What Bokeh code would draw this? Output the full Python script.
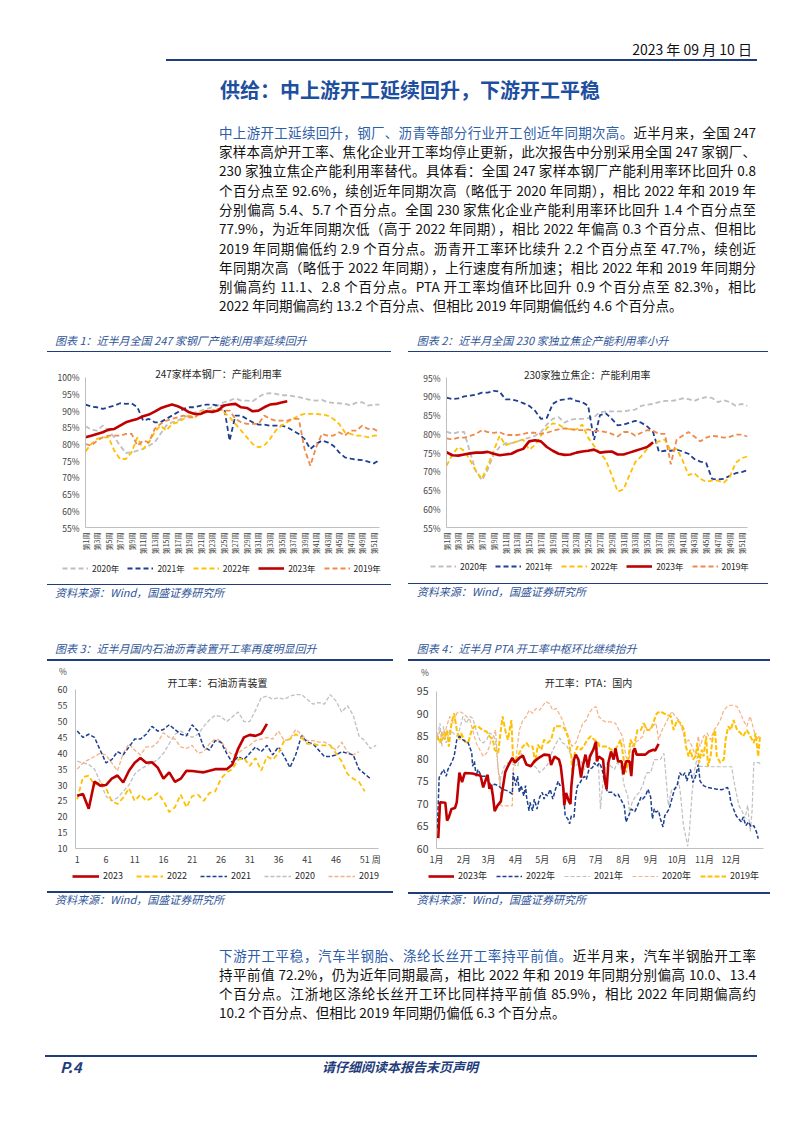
import math
from bokeh.plotting import figure
from bokeh.models import FixedTicker, Legend, LegendItem, Label, Div, Spacer, Range1d
from bokeh.layouts import column, row
from bokeh.embed import file_html
from bokeh.resources import INLINE

FONT = "Noto Sans CJK SC"
CSSFONT = "'Noto Sans CJK SC', 'Noto Sans', sans-serif"
PAGE_W = 794

# ---------------- data ----------------
weeks_label = [f"第{i}周" for i in range(1, 53)]

# Chart 1: 247 steel mills capacity utilisation (%)
steel_2020 = [85.3,84.3,84.0,85.5,84.0,82.0,79.5,77.3,77.5,78.0,78.5,79.5,80.5,83.0,85.5,86.5,87.0,88.0,88.5,89.5,
              90.0,90.5,91.0,91.5,92.5,93.0,93.7,93.0,93.0,92.8,94.0,95.0,95.2,95.0,94.6,94.6,94.3,94.0,93.6,93.2,
              93.0,93.2,92.5,92.3,92.2,92.0,91.6,92.4,92.5,91.5,91.8,91.8]
steel_2021 = [91.8,91.2,91.0,90.5,91.0,91.5,92.2,92.0,92.2,91.0,87.0,87.5,86.5,86.5,87.5,88.5,89.5,90.5,91.0,91.0,
              91.5,91.8,91.8,91.5,91.5,81.0,88.5,88.5,87.5,86.5,85.8,85.8,85.5,85.5,85.5,85.0,84.0,83.0,81.5,78.5,
              80.0,81.0,80.5,79.5,77.5,76.0,75.6,75.3,75.2,74.7,74.2,75.2]
steel_2022 = [77.8,80.0,81.5,82.0,82.0,78.0,75.5,75.5,77.5,82.0,78.5,80.5,83.5,85.5,84.0,86.0,86.5,87.5,88.5,88.0,
              89.5,90.0,90.0,90.5,89.5,88.0,86.0,84.0,82.0,80.0,79.0,79.5,81.5,84.0,85.5,86.5,87.5,88.5,89.0,89.0,
              89.0,88.8,88.5,87.5,86.0,83.5,83.0,82.5,82.5,82.0,82.5,82.5]
steel_2023 = [82.0,82.5,83.0,83.5,84.3,84.5,85.5,86.5,87.0,87.5,88.3,88.8,89.7,90.7,91.3,91.8,91.3,90.5,89.5,89.0,
              89.0,89.8,89.6,90.0,91.5,91.8,92.0,91.0,90.8,89.8,90.0,91.0,91.8,92.0,92.4,92.8]
steel_2019 = [80.0,79.5,81.0,82.0,82.5,82.5,82.5,83.0,83.0,79.5,81.0,80.5,84.5,86.0,87.0,87.5,88.0,88.5,88.0,88.0,
              89.5,89.5,90.0,90.5,90.0,90.0,87.5,86.5,86.0,86.0,86.0,88.5,87.5,87.0,87.0,87.0,87.5,87.5,78.5,73.5,
              79.0,83.0,82.5,82.5,83.5,82.5,84.0,84.0,85.5,84.5,84.5,83.5]

# Chart 2: 230 independent coking plants capacity utilisation (%)
coke_2020 = [80.6,80.0,80.5,80.5,75.0,70.0,67.6,70.5,74.5,76.5,77.5,77.5,78.0,78.5,79.0,79.5,80.5,82.5,84.0,84.5,
             83.0,83.8,84.0,84.0,84.2,84.5,85.8,86.0,86.0,86.0,86.0,86.3,86.5,87.5,87.8,88.0,88.5,88.8,88.8,89.0,
             89.5,89.3,88.8,89.5,89.8,89.6,88.5,89.0,88.5,87.5,88.0,87.5]
coke_2021 = [89.7,89.3,89.5,90.0,90.2,90.5,91.0,91.0,91.5,91.3,89.2,89.2,88.8,88.2,87.5,86.2,84.0,84.3,88.0,89.0,
             89.2,89.5,88.8,88.5,87.5,78.4,85.0,85.5,84.0,82.3,82.5,83.0,83.5,83.0,82.0,80.5,75.2,75.5,75.5,75.8,
             75.3,74.7,73.3,72.6,72.2,68.0,67.8,68.0,68.8,69.5,69.8,70.3]
coke_2022 = [71.5,74.5,76.5,75.5,73.0,70.0,68.0,71.5,75.5,79.5,77.0,77.5,78.0,78.5,75.8,77.0,79.5,81.5,82.8,82.5,
             81.5,81.2,81.2,82.5,79.0,76.8,75.0,73.0,69.0,64.6,65.2,69.0,72.5,74.0,76.0,77.5,78.0,78.5,75.5,76.0,
             73.0,69.0,69.5,68.0,67.2,67.5,67.5,67.0,68.5,72.3,73.5,74.0]
coke_2023 = [75.1,74.3,74.2,74.5,74.8,75.0,75.0,75.2,74.7,74.3,74.5,74.7,75.5,76.0,78.0,78.3,78.0,76.5,75.5,74.7,
             74.4,74.5,75.0,75.3,75.5,75.8,75.0,75.2,75.3,74.5,74.5,75.0,75.5,76.0,76.5,77.8]
coke_2019 = [78.8,78.5,79.0,79.0,79.5,80.0,81.0,80.5,80.3,80.5,79.7,79.7,79.7,80.0,80.3,80.3,80.0,80.3,80.8,81.2,
             81.5,81.3,81.0,81.0,81.2,80.8,80.8,80.5,80.0,79.3,80.5,80.5,79.5,80.3,81.0,80.8,80.0,80.0,71.9,78.5,
             79.5,80.5,79.3,78.0,79.0,79.5,79.3,79.0,79.2,79.8,79.8,79.3]

# Chart 3: asphalt plant operating rate (%)
asph_2023 = [26.6,27.2,22.5,31.1,29.8,30.0,32.0,33.0,30.8,34.5,37.0,38.5,37.0,37.2,35.5,32.0,34.0,31.0,32.0,34.5,
             34.4,34.2,34.0,34.5,35.0,35.0,35.0,36.5,41.5,45.0,45.8,45.5,46.2,49.3]
asph_2022 = [25.5,32.5,33.0,30.0,31.0,29.0,25.0,24.0,26.0,29.0,25.0,27.0,25.0,26.0,27.5,25.0,21.5,23.0,27.0,23.0,
             26.5,27.0,25.0,27.5,28.0,32.0,34.0,35.0,38.0,38.5,36.0,38.5,34.5,39.0,38.0,40.0,44.0,44.5,46.0,45.0,
             43.0,43.0,42.5,42.5,42.5,40.0,37.5,33.5,32.0,31.0,28.0]
asph_2021 = [47.0,45.0,46.0,45.0,41.0,37.0,38.0,40.5,39.5,42.0,44.5,44.5,46.0,48.5,47.0,47.5,49.0,47.5,46.0,45.5,
             49.0,47.0,42.0,41.0,44.0,43.5,40.0,37.0,39.0,38.0,40.0,42.0,40.5,42.5,39.5,42.0,39.0,35.5,39.5,45.5,
             43.5,43.0,41.0,39.0,39.0,39.5,40.5,40.0,39.5,35.0,33.5,32.0]
asph_2020 = [37.5,37.0,36.5,35.0,31.0,26.5,25.0,26.0,28.0,30.0,33.5,35.0,36.0,37.0,38.0,40.0,43.0,46.0,47.0,46.0,
             45.0,46.0,48.5,50.5,52.0,51.5,50.0,51.5,53.0,50.0,50.0,53.5,57.5,58.0,57.0,57.5,57.0,58.0,58.5,58.5,
             57.0,55.5,56.0,55.5,58.5,56.5,53.0,55.0,52.0,45.5,44.0,41.5,42.5]
asph_2019 = [35.0,37.0,38.0,39.0,40.0,39.5,37.0,34.5,40.0,43.0,41.0,39.5,42.0,42.0,43.5,46.5,45.0,44.5,42.0,41.5,
             42.5,40.0,40.5,43.0,44.5,44.0,41.0,39.5,40.0,41.5,42.5,44.0,44.5,45.0,44.5,47.0,44.0,44.5,47.5,46.0,
             44.0,44.0,43.5,43.5,42.5,41.0,43.5,40.5,39.5,40.5]
asph_ticks = [1, 6, 11, 16, 21, 26, 31, 36, 41, 46, 51]
asph_unit_tick = 53

# Chart 4: PTA operating rate (%), (day of year, value)
pta_2023 = [(3,62.3),(5,70.3),(11,70.2),(13,66.2),(15,67),(18,68.8),(22,69),(24,70.3),(27,76.9),(30,74.8),(33,76.8),
            (42,76.7),(51,76.2),(54,73.6),(57,75.4),(59,76.4),(61,73.3),(63,74.2),(65,71.7),(67,68.3),(70,69.5),
            (74,70.5),(76,73.2),(79,77),(82,78.3),(87,80.2),(90,79.1),(95,80.2),(99,80.7),(103,78.7),(108,78.3),
            (112,79.4),(118,80.3),(123,80.9),(129,80.8),(131,78.6),(135,80.5),(140,79.8),(142,78.3),(145,73.2),
            (146,69.6),(148,72.4),(151,70.6),(153,69.9),(154,73.9),(157,79.8),(159,80.9),(162,79.8),(165,75.8),
            (167,78.3),(170,80.9),(173,78),(175,80.5),(179,82),(182,83.8),(183,79.4),(185,80.5),(190,79.8),
            (192,75.4),(194,73.2),(196,79.1),(199,81.6),(202,79.8),(204,82.3),(207,79.4),(211,79.4),(213,76.5),
            (216,79.4),(220,79.4),(222,76.1),(224,81.6),(226,82.3),(228,80.9),(238,80.9),(242,81.6),(247,82),
            (249,81.8),(253,83.3)]
pta_2022 = [(2,64.5),(4,75.8),(9,77.6),(12,76.1),(14,77.6),(18,79.1),(21,80.5),(24,84.2),(27,85),(31,84.2),(37,83.5),
            (41,81.3),(42,78.3),(44,79.4),(46,76.1),(48,77.6),(52,76.1),(58,76.1),(61,74.7),(63,74),(67,74.3),(71,74),
            (76,73.2),(82,72.8),(87,72.1),(88,76.9),(91,74),(93,76.1),(95,72.5),(97,74),(100,71.7),(102,74),(103,71.7),
            (106,68.4),(107,70.3),(110,68.4),(112,71),(115,68.8),(118,71.4),(121,72.5),(123,71),(125,72.1),(127,71.7),
            (130,73.2),(133,71),(136,73.2),(139,75),(141,74),(144,74.7),(147,67.3),(150,66.6),(152,65.5),(154,67.3),
            (157,67),(159,71.7),(161,74),(163,74.3),(166,75.4),(169,76.1),(171,75.4),(174,77.6),(178,78),(180,79.1),
            (183,78.3),(186,79.1),(189,77.6),(191,75.4),(195,72.5),(201,72.5),(204,71.7),(207,72.1),(210,71),
            (214,69.5),(216,65.9),(219,67.3),(222,68.8),(226,68.2),(229,69.5),(233,71.4),(235,71),(238,71.7),
            (241,73.2),(244,71.4),(246,66.6),(248,68.8),(250,68.1),(253,68.4),(255,66.6),(258,64.8),(260,67.3),
            (265,68.8),(268,71),(271,73.2),(274,74),(277,76.9),(280,76.1),(283,76.9),(285,75),(289,77.6),(292,74.7),
            (295,76.1),(298,78.7),(300,75),(304,74),(308,73.6),(314,73.4),(319,73.2),(325,73.1),(331,73.6),(333,72.8),
            (335,70.3),(338,68.8),(341,67.3),(344,66.6),(347,65.9),(349,67),(352,65.1),(355,65.9),(358,64.8),
            (361,65.1),(364,63.7),(366,62.2)]
pta_2021 = [(2,85),(5,87.9),(7,82.7),(9,87.2),(12,83.5),(16,86.4),(20,85.7),(24,85),(27,86.4),(31,89.4),(35,87.9),
            (39,89.4),(42,89),(46,86.4),(50,84.2),(54,83.5),(58,84.2),(61,85.7),(65,85.3),(68,84.2),(71,77.6),(73,73.6),
            (74,76.1),(78,78.3),(82,79.1),(88,78.7),(93,78.3),(97,81.3),(101,79.1),(106,78.3),(110,78.7),(114,78),
            (118,76.9),(122,77.6),(127,78.7),(133,82),(139,84.2),(141,84.6),(144,83.5),(148,83.1),(151,82),(154,80.5),
            (157,78.3),(161,78.7),(165,79.4),(169,77.6),(172,79.1),(176,79.8),(180,83.5),(184,82),(187,68.8),
            (189,73.2),(192,77.6),(195,79.1),(199,78.3),(203,77.6),(206,79.1),(210,78.3),(214,74),(218,71.7),
            (220,68.1),(223,70.3),(227,71.7),(231,72.5),(235,74),(238,76.1),(240,76.9),(244,76.9),(248,79.8),
            (255,79.8),(259,81.2),(261,76.9),(264,69.6),(268,73.2),(272,73.2),(276,74.7),(278,71.8),(281,65.3),
            (284,62.4),(286,60.5),(288,63.8),(291,72.5),(294,77.6),(297,80.5),(299,78.3),(304,78.3),(310,78.2),
            (323,78.2),(336,78.2),(338,75.5),(341,72.5),(344,69.6),(348,68.2),(351,66.7),(354,69.6),(357,63.8),
            (359,68.2),(361,79.1),(367,79.1),(369,78.7)]
pta_2020 = [(2,84.2),(5,86.4),(9,85),(12,86.8),(16,89.4),(20,87.9),(24,90.1),(27,90.5),(31,90.1),(35,89.4),(39,88.6),
            (42,86.4),(46,83.5),(50,82),(54,80.5),(58,81.3),(61,82.7),(63,84.2),(66,85),(68,86.4),(71,77.6),(73,75.4),
            (74,69.5),(80,69.5),(87,69.5),(88,77.6),(91,79.8),(95,86.4),(99,88.6),(103,89.4),(106,90.8),(110,90.1),
            (114,91.2),(118,90.8),(122,91.9),(125,92.7),(129,92.3),(133,90.8),(137,91.2),(140,90.1),(144,88.6),
            (148,86.4),(152,84.2),(155,82.7),(159,83.5),(163,85.7),(167,87.9),(171,88.6),(174,90.1),(178,91.2),
            (182,91.6),(185,89.4),(189,88.6),(193,88.2),(199,88.2),(204,87.9),(208,86.4),(212,85),(216,80.5),
            (219,79.1),(221,82),(225,83.5),(231,84.2),(235,85),(238,87.2),(242,86.4),(246,87.2),(250,87.9),(253,84.2),
            (257,86.4),(261,87.9),(265,89.4),(268,90.5),(272,89.4),(276,88.6),(280,86.4),(284,83.5),(287,84.2),
            (291,82.7),(295,80.5),(298,85),(300,82.7),(304,85),(308,85.7),(312,84.2),(316,86.4),(319,87.2),(323,88.6),
            (327,90.8),(331,91.6),(334,91.9),(338,91.9),(342,91.6),(346,90.1),(349,88.6),(353,87.2),(357,89.4),
            (361,86.4),(364,84.2),(367,85)]
pta_2019 = [(2,85),(5,83.5),(8,85.7),(10,84.2),(13,86.4),(15,82.7),(18,87.9),(21,90.1),(24,86.4),(27,84.2),(29,85.7),
            (33,83.8),(37,83.5),(41,86.4),(44,87.2),(48,87.2),(53,86.4),(58,86),(61,85),(65,84.2),(67,82),(71,81.3),
            (74,86.4),(76,89.4),(79,86.4),(82,84.2),(86,88.6),(88,79.1),(91,79.8),(95,81.3),(99,82.7),(103,83.5),
            (106,82.7),(110,82.7),(113,79.1),(116,83.1),(120,82),(123,84.2),(127,83.5),(131,84.2),(135,87.2),
            (139,87.2),(142,87.2),(146,86.8),(150,85),(154,80.5),(155,76.9),(158,81.3),(161,82.7),(165,82),(169,83.1),
            (172,84.2),(176,85),(180,84.2),(184,83.8),(186,82.7),(189,82.7),(195,82.7),(199,82),(203,82),(206,82.7),
            (210,84.2),(214,79.1),(216,76.9),(219,80.5),(221,84.2),(225,82.7),(229,86.4),(233,86.4),(236,87.9),
            (240,86.4),(244,86.4),(248,88.6),(251,90.1),(255,90.5),(259,90.1),(263,89.7),(267,89.4),(270,86.4),
            (274,88.6),(278,87.9),(282,86.4),(284,82.7),(287,80.5),(289,82),(292,79.8),(295,80.5),(297,83.5),
            (299,79.1),(302,82),(304,80.5),(307,85),(309,78.3),(312,80.5),(314,84.2),(317,86.4),(319,80.5),(323,79.1),
            (327,79.8),(329,84.2),(332,87.2),(335,86.4),(338,88.6),(342,86.4),(346,85.7),(349,85),(353,86.4),
            (357,85),(361,83.5),(363,85.7),(366,80.5),(368,85)]
month_start_days = [1, 32, 60, 91, 121, 152, 182, 213, 244, 274, 305, 335]
month_labels = [f"{m}月" for m in range(1, 13)]

# colours
GRAY = "#BFBFBF"
NAVY = "#1F3F8F"
YELLOW = "#FFC000"
RED = "#C00000"
ORANGE = "#F08A4B"
SALMON = "#F4B183"


def base_fig(w, h, xr, yr, ybounds, left, right, top, bottom):
    p = figure(width=w, height=h, x_range=Range1d(*xr), y_range=Range1d(*yr),
               output_backend="svg", toolbar_location=None,
               min_border_left=left, min_border_right=right,
               min_border_top=top, min_border_bottom=bottom)
    p.outline_line_color = None
    p.xgrid.visible = False
    p.ygrid.visible = False
    p.background_fill_color = "white"
    p.border_fill_color = "white"
    for ax in (p.xaxis[0], p.yaxis[0]):
        ax.axis_line_color = "#BFBFBF"
        ax.axis_line_width = 1
        ax.major_tick_line_color = None
        ax.major_tick_out = 0
        ax.major_tick_in = 0
        ax.minor_tick_line_color = None
        ax.minor_tick_out = 0
        ax.minor_tick_in = 0
        ax.major_label_text_font = FONT
        ax.major_label_text_color = "#404040"
    p.yaxis.bounds = ybounds
    return p


def add_title(p, x, y, text, size="10px"):
    p.add_layout(Label(x=x, y=y, x_units="screen", y_units="screen", text=text,
                       text_align="center", text_baseline="middle",
                       text_font=FONT, text_font_size=size, text_color="#262626"))


def legend_fig(w, entries, x, y, spacing, size="8.5px", gw=26):
    """A slim strip under a chart holding only that chart's legend (key swatches only, no data)."""
    p = figure(width=w, height=16, x_range=Range1d(0, 1), y_range=Range1d(0, 1),
               x_axis_type=None, y_axis_type=None, output_backend="svg", toolbar_location=None,
               min_border_left=0, min_border_right=0, min_border_top=0, min_border_bottom=0)
    p.outline_line_color = None
    p.xgrid.visible = False
    p.ygrid.visible = False
    p.background_fill_color = "white"
    p.border_fill_color = "white"
    items = []
    for label, color, width, dash in entries:
        r = p.line(x=[float("nan")], y=[float("nan")], line_color=color, line_width=width, line_dash=dash)
        items.append(LegendItem(label=label, renderers=[r]))
    lg = Legend(items=items, orientation="horizontal", location=(x, y), spacing=spacing,
                padding=0, margin=0, glyph_width=gw, glyph_height=10, label_height=12,
                label_standoff=4, label_text_font=FONT, label_text_font_size=size,
                label_text_color="#262626", border_line_color=None, background_fill_alpha=0)
    p.add_layout(lg, "center")
    return p


def weekly_fig(w, yr, ybounds, left, right, bottom, title, title_xy, series):
    p = base_fig(w, 205, (1, 52), yr, ybounds, left, right, 11, bottom)
    p.xaxis.ticker = FixedTicker(ticks=list(range(1, 53, 2)))
    p.xaxis.major_label_overrides = {i: weeks_label[i - 1] for i in range(1, 53)}
    p.xaxis.major_label_orientation = math.pi / 2
    p.xaxis.major_label_text_font_size = "7px"
    p.xaxis.major_label_standoff = 5
    yt = list(range(int(ybounds[0]), int(ybounds[1]) + 1, 5))
    p.yaxis.ticker = FixedTicker(ticks=yt)
    p.yaxis.major_label_overrides = {v: f"{v}%" for v in yt}
    p.yaxis.major_label_text_font_size = "8.5px"
    p.yaxis.major_label_standoff = 6
    for name, vals, color, width, dash in series:
        p.line(list(range(1, len(vals) + 1)), vals, line_color=color, line_width=width, line_dash=dash)
    add_title(p, title_xy[0], title_xy[1], title)
    return p


steel_series = [("2020年", steel_2020, GRAY, 1.8, "5 3"),
                ("2021年", steel_2021, NAVY, 1.8, "5 3"),
                ("2022年", steel_2022, YELLOW, 1.8, "5 3"),
                ("2019年", steel_2019, ORANGE, 1.8, "5 3"),
                ("2023年", steel_2023, RED, 2.6, "solid")]
coke_series = [("2020年", coke_2020, GRAY, 1.8, "5 3"),
               ("2021年", coke_2021, NAVY, 1.8, "5 3"),
               ("2022年", coke_2022, YELLOW, 1.8, "5 3"),
               ("2019年", coke_2019, ORANGE, 1.8, "5 3"),
               ("2023年", coke_2023, RED, 2.6, "solid")]

fig1 = weekly_fig(360, (55, 103.2), (55, 100), 45, 21, 33, "247家样本钢厂：产能利用率", (133, 154.3), steel_series)
fig2 = weekly_fig(380, (55, 98.0), (55, 95), 46, 33, 32, "230家独立焦企：产能利用率", (140.7, 153), coke_series)

wk_order = ["2020年", "2021年", "2022年", "2023年", "2019年"]
leg1 = legend_fig(360, [(n, c, w, d) for n in wk_order for (m, v, c, w, d) in steel_series if m == n], 22, 2, 8)
leg2 = legend_fig(380, [(n, c, w, d) for n in wk_order for (m, v, c, w, d) in coke_series if m == n], 30, 4, 8)

# Chart 3
fig3 = base_fig(360, 192, (0.7, 53.4), (10, 64.2), (10, 60), 35, 22, 0, 19)
fig3.xaxis.ticker = FixedTicker(ticks=asph_ticks + [asph_unit_tick])
fig3.xaxis.major_label_overrides = {asph_unit_tick: "周"}
fig3.yaxis.ticker = FixedTicker(ticks=list(range(10, 61, 5)))
for ax in (fig3.xaxis[0], fig3.yaxis[0]):
    ax.major_label_text_font_size = "9px"
fig3.xaxis.major_label_standoff = 4
fig3.yaxis.major_label_standoff = 8
asph_series = [("2020", asph_2020, GRAY, 1.3, "4 2"),
               ("2019", asph_2019, SALMON, 1.3, "4 2"),
               ("2021", asph_2021, NAVY, 1.5, "4 2"),
               ("2022", asph_2022, YELLOW, 1.8, "5 3"),
               ("2023", asph_2023, RED, 2.6, "solid")]
for name, vals, color, width, dash in asph_series:
    fig3.line(list(range(1, len(vals) + 1)), vals, line_color=color, line_width=width, line_dash=dash)
add_title(fig3, 142, 166, "开工率：石油沥青装置")
leg3 = legend_fig(360, [(n, c, w, d) for n in ["2023", "2022", "2021", "2020", "2019"]
                        for (m, v, c, w, d) in asph_series if m == n], 32, 2, 13, size="9px", gw=27)

# Chart 4
fig4 = base_fig(380, 192, (1, 372), (60, 98.3), (60, 95), 36, 17, 0, 18)
fig4.xaxis.ticker = FixedTicker(ticks=month_start_days)
fig4.xaxis.major_label_overrides = dict(zip(month_start_days, month_labels))
fig4.yaxis.ticker = FixedTicker(ticks=list(range(60, 96, 5)))
fig4.xaxis.major_label_text_font_size = "9px"
fig4.yaxis.major_label_text_font_size = "10.5px"
fig4.xaxis.major_label_standoff = 4
fig4.yaxis.major_label_standoff = 8
pta_series = [("2021年", pta_2021, GRAY, 1.2, "4 2"),
              ("2020年", pta_2020, SALMON, 1.2, "4 2"),
              ("2019年", pta_2019, YELLOW, 2.0, "5 2"),
              ("2022年", pta_2022, NAVY, 1.5, "4 2"),
              ("2023年", pta_2023, RED, 2.6, "solid")]
for name, pts, color, width, dash in pta_series:
    fig4.line([d for d, v in pts], [v for d, v in pts], line_color=color, line_width=width, line_dash=dash)
add_title(fig4, 152, 166, "开工率：PTA：国内")
leg4 = legend_fig(380, [(n, c, w, d) for n in ["2023年", "2022年", "2021年", "2020年", "2019年"]
                        for (m, v, c, w, d) in pta_series if m == n], 28, 2, 9, size="9px")

# ---------------- text blocks ----------------
BLUE_T = "#1E4F9E"
BLUE_C = "#2F5597"
BLUE_L = "#1F3D7A"
BLUE_P = "#2E5DA8"


def text_item(x, y, top0, s, size, color="#111", weight="normal", style="normal", anchor="left", h=20,
              width=None, justify=False):
    by = y - top0 - h / 2
    st = (f"position:absolute;top:{by:.1f}px;height:{h}px;line-height:{h}px;font-size:{size}px;"
          f"color:{color};font-weight:{weight};font-style:{style};white-space:nowrap;")
    if anchor == "left":
        st += f"left:{x:.1f}px;"
    elif anchor == "right":
        st += f"right:{PAGE_W - x:.1f}px;"
    else:
        st += f"left:{x - 200:.1f}px;width:400px;text-align:center;"
    if width is not None:
        st = st.replace("white-space:nowrap;", "")
        st += f"width:{width}px;"
    if justify:
        st += "text-align:justify;text-align-last:justify;"
    return f'<div style="{st}">{s}</div>'


def rule(x0, x1, y, top0, thick, color):
    return (f'<div style="position:absolute;left:{x0:.1f}px;top:{y - top0 - thick / 2:.1f}px;'
            f'width:{x1 - x0:.1f}px;height:{thick}px;background:{color};"></div>')


def block(top0, height, items):
    html = (f'<div style="position:relative;width:{PAGE_W}px;height:{height}px;font-family:{CSSFONT};">'
            + "".join(items) + '</div>')
    return Div(text=html, width=PAGE_W, height=height, margin=(0, 0, 0, 0))


para1 = [
    f'<span style="color:{BLUE_P}">中上游开工延续回升，钢厂、沥青等部分行业开工创近年同期次高。</span>近半月来，全国 247',
    '家样本高炉开工率、焦化企业开工率均停止更新，此次报告中分别采用全国 247 家钢厂、',
    '230 家独立焦企产能利用率替代。具体看：全国 247 家样本钢厂产能利用率环比回升 0.8',
    '个百分点至 92.6%，续创近年同期次高（略低于 2020 年同期），相比 2022 年和 2019 年',
    '分别偏高 5.4、5.7 个百分点。全国 230 家焦化企业产能利用率环比回升 1.4 个百分点至',
    '77.9%，为近年同期次低（高于 2022 年同期），相比 2022 年偏高 0.3 个百分点、但相比',
    '2019 年同期偏低约 2.9 个百分点。沥青开工率环比续升 2.2 个百分点至 47.7%，续创近',
    '年同期次高（略低于 2022 年同期），上行速度有所加速；相比 2022 年和 2019 年同期分',
    '别偏高约 11.1、2.8 个百分点。PTA 开工率均值环比回升 0.9 个百分点至 82.3%，相比',
    '2022 年同期偏高约 13.2 个百分点、但相比 2019 年同期偏低约 4.6 个百分点。',
]
para2 = [
    f'<span style="color:{BLUE_P}">下游开工平稳，汽车半钢胎、涤纶长丝开工率持平前值。</span>近半月来，汽车半钢胎开工率',
    '持平前值 72.2%，仍为近年同期最高，相比 2022 年和 2019 年同期分别偏高 10.0、13.4',
    '个百分点。江浙地区涤纶长丝开工环比同样持平前值 85.9%，相比 2022 年同期偏高约',
    '10.2 个百分点、但相比 2019 年同期仍偏低 6.3 个百分点。',
]
captions = ["图表 1：近半月全国 247 家钢厂产能利用率延续回升",
            "图表 2：近半月全国 230 家独立焦企产能利用率小升",
            "图表 3：近半月国内石油沥青装置开工率再度明显回升",
            "图表 4：近半月 PTA 开工率中枢环比继续抬升"]
source = "资料来源：Wind，国盛证券研究所"

# Block A (page y 0..355)
A0 = 0
itemsA = [
    text_item(752, 49, A0, "2023 年 09 月 10 日", 14, color="#111", anchor="right"),
    rule(166, 757, 60, A0, 2.5, BLUE_L),
    text_item(220, 90, A0, "供给：中上游开工延续回升，下游开工平稳", 20, color=BLUE_T, weight="bold", h=26),
]
for i, line in enumerate(para1):
    itemsA.append(text_item(219, 131.7 + i * 19.3, A0, line, 13.5, width=537, justify=(i < len(para1) - 1)))
itemsA += [
    text_item(55, 340, A0, captions[0], 11, color=BLUE_C, style="italic", h=18),
    rule(46.7, 391, 351.7, A0, 1.5, BLUE_L),
    text_item(416.7, 340, A0, captions[1], 11, color=BLUE_C, style="italic", h=18),
    rule(408, 767.7, 351.7, A0, 1.5, BLUE_L),
]
divA = block(A0, 355, itemsA)

# Block C (page y 576..676)
C0 = 576
itemsC = [
    rule(46.7, 391, 584.3, C0, 1.5, BLUE_L),
    text_item(55, 591.7, C0, source, 11, color=BLUE_C, style="italic", h=18),
    rule(408, 767.7, 583.5, C0, 1.5, BLUE_L),
    text_item(416.7, 591.2, C0, source, 11, color=BLUE_C, style="italic", h=18),
    text_item(55, 648, C0, captions[2], 11, color=BLUE_C, style="italic", h=18),
    rule(46.7, 393, 660, C0, 1.5, BLUE_L),
    text_item(416.7, 648, C0, captions[3], 11, color=BLUE_C, style="italic", h=18),
    rule(408, 770, 660, C0, 1.5, BLUE_L),
    text_item(63, 671, C0, "%", 8.5, color="#404040", anchor="center", h=10),
    text_item(425, 672, C0, "%", 8.5, color="#404040", anchor="center", h=10),
]
divC = block(C0, 100, itemsC)

# Block E (page y 884..1125)
E0 = 884
itemsE = [
    rule(46.7, 393, 891.7, E0, 1.5, BLUE_L),
    text_item(55, 898.5, E0, source, 11, color=BLUE_C, style="italic", h=18),
    rule(408, 770, 893, E0, 1.5, BLUE_L),
    text_item(416.7, 898.5, E0, source, 11, color=BLUE_C, style="italic", h=18),
]
for i, line in enumerate(para2):
    itemsE.append(text_item(219, 955 + i * 19, E0, line, 13.5, width=537, justify=(i < len(para2) - 1)))
itemsE += [
    rule(45, 757, 1056, E0, 2.5, BLUE_L),
    text_item(60, 1067, E0, "P.4", 15, color=BLUE_L, weight="bold", style="italic", h=20),
    text_item(400, 1067, E0, "请仔细阅读本报告末页声明", 13, color=BLUE_L, weight="bold", style="italic", anchor="center", h=20),
]
divE = block(E0, 241, itemsE)


def chart_row(a, b, h):
    return row(Spacer(width=40, height=h), a, b, Spacer(width=14, height=h), spacing=0)


page = column(divA,
              chart_row(fig1, fig2, 205), chart_row(leg1, leg2, 16),
              divC,
              chart_row(fig3, fig4, 192), chart_row(leg3, leg4, 16),
              divE, spacing=0)

open("out.html", "w").write(file_html(page, INLINE))
